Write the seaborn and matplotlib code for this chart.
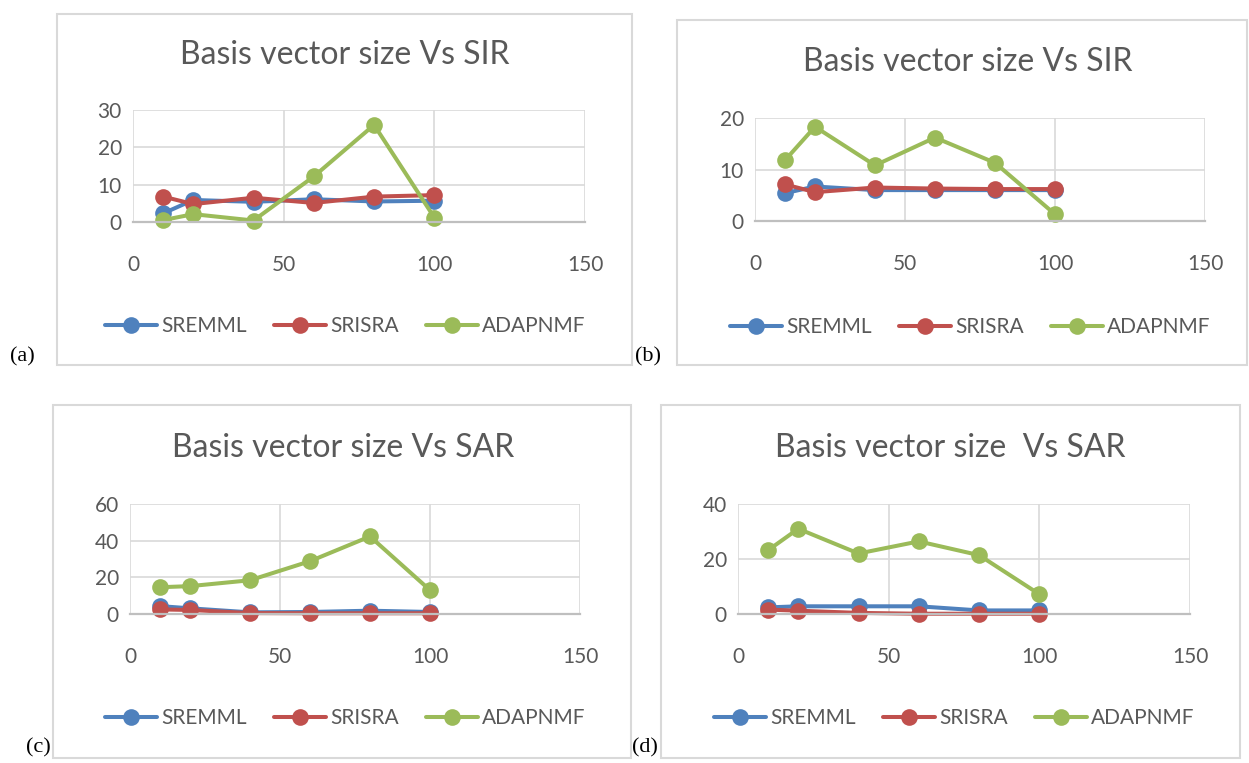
import numpy as np
import pandas as pd
import matplotlib
matplotlib.use('Agg')
import matplotlib.pyplot as plt
import seaborn as sns
from matplotlib.patches import Rectangle

sns.set_style('white')
plt.rcParams['font.family'] = ['Lato', 'DejaVu Sans']

# basis vector sizes (x axis)
sizes = [10, 20, 40, 60, 80, 100]
methods = ['SREMML', 'SRISRA', 'ADAPNMF']

# (a) SIR
sremml_a = [2.3, 5.9, 5.4, 6.1, 5.5, 5.7]
srisra_a = [6.8, 4.8, 6.5, 5.1, 6.8, 7.2]
adapnmf_a = [0.5, 2.1, 0.4, 12.2, 26.0, 1.2]
# (b) SIR
sremml_b = [5.4, 6.7, 6.0, 6.0, 6.0, 6.0]
srisra_b = [7.1, 5.6, 6.5, 6.3, 6.2, 6.2]
adapnmf_b = [11.8, 18.3, 10.8, 16.2, 11.3, 1.3]
# (c) SAR
sremml_c = [4.3, 3.1, 0.9, 1.1, 1.8, 1.1]
srisra_c = [2.5, 2.2, 0.5, 0.4, 0.4, 0.4]
adapnmf_c = [14.6, 15.2, 18.4, 28.8, 42.3, 13.0]
# (d) SAR
sremml_d = [2.4, 2.8, 2.8, 2.8, 1.3, 1.3]
srisra_d = [1.6, 1.2, 0.4, 0.1, 0.1, 0.1]
adapnmf_d = [23.2, 31.0, 22.0, 26.4, 21.4, 7.2]

titles = ['Basis vector size Vs SIR', 'Basis vector size Vs SIR',
          'Basis vector size Vs SAR', 'Basis vector size  Vs SAR']
panel_labels = ['(a)', '(b)', '(c)', '(d)']
y_max = [30, 20, 60, 40]
y_step = [10, 10, 20, 20]
x_ticks = [0, 50, 100, 150]

colors = ['#4F81BD', '#C0504D', '#9BBB59']
grey = '#595959'

W, H = 1249, 763
fig = plt.figure(figsize=(W / 100, H / 100), dpi=100)

def rect(l, t, r, b):
    return [l / W, 1 - b / H, (r - l) / W, (b - t) / H]

# pixel layout of each panel: box, plot area, title, legend, label
layout = [
    dict(box=(57, 14, 632, 365), plot=(133, 110, 585, 222), title=(345, 55), leg=(345, 326), lab=(22, 357)),
    dict(box=(677, 20, 1247, 365), plot=(755, 118, 1205, 221), title=(968, 62), leg=(970, 327), lab=(648, 357)),
    dict(box=(53, 405, 631, 758), plot=(130, 504, 580, 614), title=(343, 448), leg=(345, 718), lab=(38, 748)),
    dict(box=(661, 405, 1240, 758), plot=(738, 504, 1190, 614), title=(950, 448), leg=(954, 718), lab=(645, 748)),
]

panels = [
    (sremml_a, srisra_a, adapnmf_a),
    (sremml_b, srisra_b, adapnmf_b),
    (sremml_c, srisra_c, adapnmf_c),
    (sremml_d, srisra_d, adapnmf_d),
]

for i, (lay, vals) in enumerate(zip(layout, panels)):
    l, t, r, b = lay['box']
    fig.add_artist(Rectangle((l / W, 1 - b / H), (r - l) / W, (b - t) / H,
                             transform=fig.transFigure, fill=False,
                             edgecolor='#D9D9D9', linewidth=1.5))

    df = pd.DataFrame({
        'size': sizes * 3,
        'value': list(vals[0]) + list(vals[1]) + list(vals[2]),
        'method': [m for m in methods for _ in sizes],
    })

    ax = fig.add_axes(rect(*lay['plot']))
    sns.lineplot(data=df, x='size', y='value', hue='method', hue_order=methods,
                 palette=colors, marker='o', markersize=12, markeredgewidth=0,
                 linewidth=2.9, legend=False, ax=ax)
    for ln in ax.lines:
        ln.set_clip_on(False)

    ax.set_xlim(0, 150)
    ax.set_ylim(0, y_max[i])
    ax.set_xticks(x_ticks)
    ax.set_yticks(np.arange(0, y_max[i] + 1, y_step[i]))
    ax.set_xlabel('')
    ax.set_ylabel('')
    ax.grid(True, color='#D9D9D9', linewidth=1.2)
    for s in ['top', 'right', 'left']:
        ax.spines[s].set_visible(False)
    ax.spines['bottom'].set_color('#BFBFBF')
    ax.spines['bottom'].set_linewidth(1.6)
    ax.tick_params(axis='both', length=0, labelsize=15, labelcolor=grey)
    ax.tick_params(axis='x', pad=24)
    ax.tick_params(axis='y', pad=8)

    fig.text(lay['title'][0] / W, 1 - lay['title'][1] / H, titles[i],
             ha='center', va='center', fontsize=23, color=grey)

    ax.legend(ax.lines, methods, loc='center', ncol=3, frameon=False,
              bbox_to_anchor=(lay['leg'][0] / W, 1 - lay['leg'][1] / H),
              bbox_transform=fig.transFigure, fontsize=15, labelcolor=grey,
              handlelength=2.5, handletextpad=0.2, columnspacing=1.3)

    fig.text(lay['lab'][0] / W, 1 - lay['lab'][1] / H, panel_labels[i],
             ha='center', va='center', fontsize=16, color='black',
             family=['Liberation Serif', 'DejaVu Serif'])

fig.savefig('out.png', dpi=100)
